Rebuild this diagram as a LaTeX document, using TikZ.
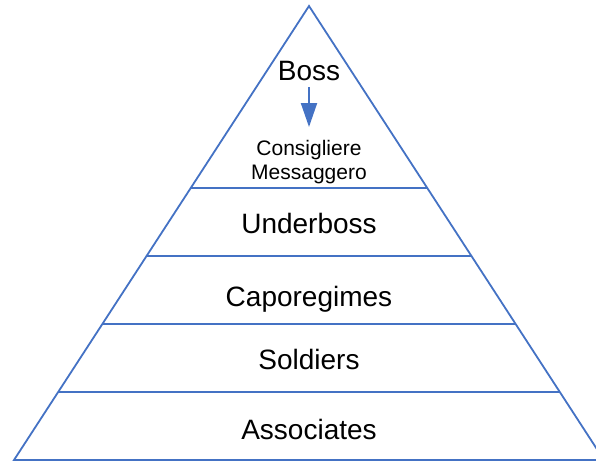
\documentclass[tikz,border=0pt]{standalone}
\usepackage{fontspec}
\setmainfont{Liberation Sans}
\usetikzlibrary{positioning}
\usetikzlibrary{arrows.meta}
\usetikzlibrary{calc}
\definecolor{rankblue}{RGB}{68,114,196}

\begin{document}
\begin{tikzpicture}[x=1pt, y=-1pt,
    rankline/.style={draw=rankblue, line width=1.8pt},
    rank/.style={font=\fontsize{28}{32}\selectfont, anchor=base, inner sep=0pt},
    small/.style={font=\fontsize{21}{24}\selectfont, align=center, inner sep=0pt}]
  \useasboundingbox (0,0) rectangle (596,464);

  % Corners of the pyramid
  \coordinate (apex) at (309,6);
  \coordinate (bl) at (14,460);
  \coordinate (br) at (604,460);

  % Outline
  \draw[rankline, line join=miter] (bl) -- (apex) -- (br) -- cycle;

  % Dividing lines between the levels
  \foreach \t in {0.4,0.55,0.7,0.85} {
    \draw[rankline] ($(apex)!\t!(bl)$) -- ($(apex)!\t!(br)$);
  }

  % Labels
  \node[rank] (boss) at (309,80) {Boss};
  \node[small] (consig) at (309,162) {Consigliere\\Messaggero};
  \node[rank] (under) at (309,233) {Underboss};
  \node[rank] (capo) at (309,306) {Caporegimes};
  \node[rank] (soldiers) at (309,369) {Soldiers};
  \node[rank] (assoc) at (309,439) {Associates};

  \draw[rankblue, line width=2pt, -{Triangle[width=16pt,length=24pt]},
    shorten <=7pt, shorten >=13pt] (boss) -- (consig);
\end{tikzpicture}
\end{document}
